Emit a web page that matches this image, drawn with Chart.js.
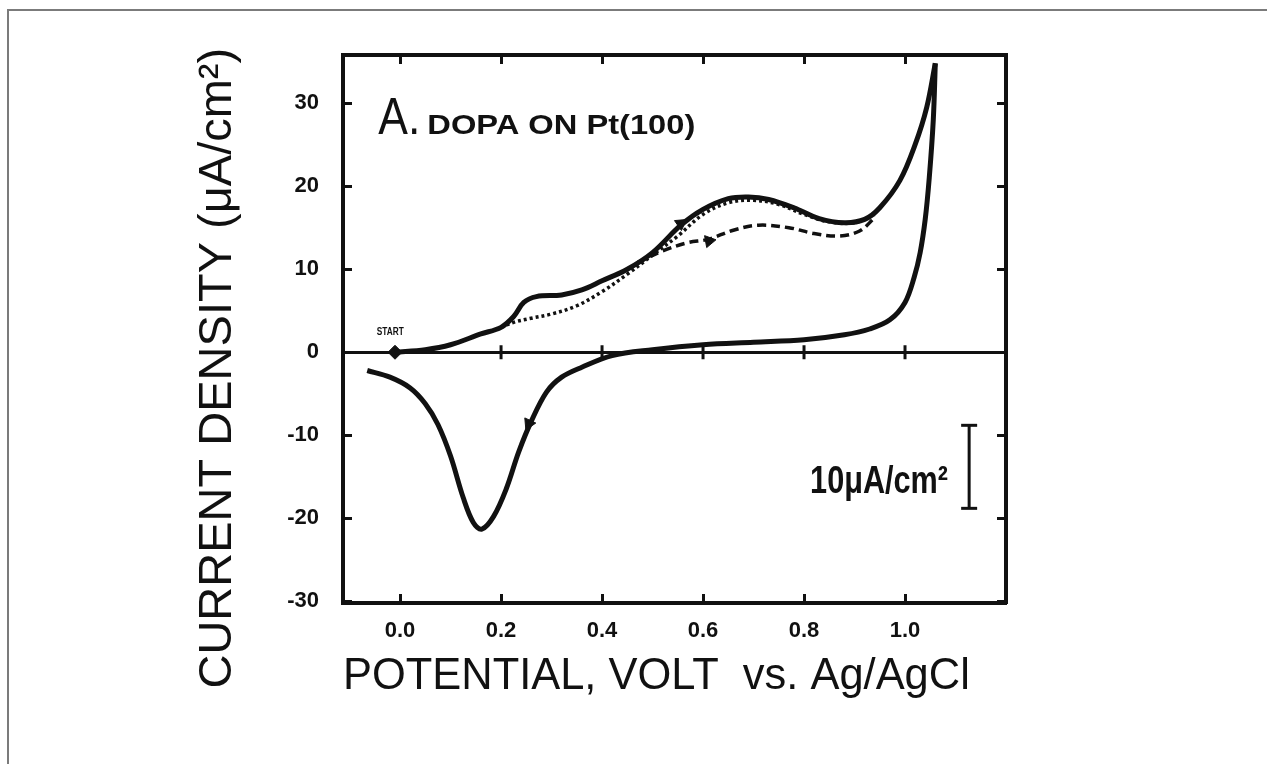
<!DOCTYPE html>
<html>
<head>
<meta charset="utf-8">
<script src="https://cdn.jsdelivr.net/npm/chart.js@4.4.1/dist/chart.umd.min.js"></script>
<style>
  html, body { margin: 0; padding: 0; background: #fff; }
  #wrap { position: relative; width: 1267px; height: 764px; overflow: hidden; }
  #frame { position: absolute; left: 7px; top: 9px; width: 1300px; height: 800px;
           border-left: 2px solid #7b7b7b; border-top: 2px solid #7b7b7b; }
  canvas { position: absolute; left: 0; top: 0; }
</style>
</head>
<body>
<div id="wrap"><div id="frame"></div><canvas id="cv" width="1267" height="764"></canvas></div>
<script>
// potential (V vs Ag/AgCl) and current density (uA/cm2)

// first anodic sweep (solid), START -> upper vertex
const firstSweepV = [-0.01, 0.05, 0.10, 0.16, 0.20, 0.225, 0.245, 0.27, 0.32, 0.36, 0.40, 0.45, 0.50, 0.556, 0.60, 0.65, 0.69, 0.73, 0.78, 0.83, 0.88, 0.92, 0.95, 0.99, 1.02, 1.043, 1.06];
const firstSweepI = [0.0, 0.3, 0.9, 2.2, 3.0, 4.3, 6.0, 6.7, 6.9, 7.5, 8.6, 10.0, 12.0, 15.3, 17.2, 18.5, 18.7, 18.4, 17.4, 16.1, 15.6, 16.0, 17.4, 20.7, 25.0, 29.5, 34.8];

// cathodic return sweep (solid), vertex -> lower end
const returnSweepV = [1.06, 1.056, 1.048, 1.04, 1.03, 1.018, 1.0, 0.97, 0.93, 0.88, 0.80, 0.70, 0.60, 0.50, 0.42, 0.36, 0.32, 0.29, 0.26, 0.235, 0.21, 0.185, 0.162, 0.145, 0.125, 0.10, 0.075, 0.05, 0.02, -0.02, -0.065];
const returnSweepI = [34.8, 28.0, 21.0, 16.0, 12.0, 9.0, 6.0, 3.9, 2.8, 2.1, 1.5, 1.2, 0.9, 0.3, -0.4, -1.8, -3.0, -4.8, -8.3, -12.0, -16.5, -19.8, -21.3, -20.5, -17.5, -12.5, -8.7, -6.2, -4.3, -3.0, -2.2];

// dotted sweep
const dottedV = [0.20, 0.225, 0.26, 0.30, 0.35, 0.40, 0.45, 0.50, 0.55, 0.60, 0.65, 0.70, 0.75, 0.80, 0.85, 0.90, 0.94];
const dottedI = [3.0, 3.6, 4.1, 4.6, 5.6, 7.3, 9.4, 11.7, 14.0, 16.6, 18.0, 18.3, 17.8, 16.6, 15.7, 15.6, 16.6];

// dashed sweep
const dashedV = [0.47, 0.52, 0.57, 0.61, 0.66, 0.71, 0.77, 0.82, 0.87, 0.91, 0.94];
const dashedI = [10.8, 12.2, 13.2, 13.6, 14.7, 15.3, 15.0, 14.3, 14.0, 14.6, 16.2];

// direction arrows on the curves
const arrowV = [0.556, 0.612, 0.255];
const arrowI = [15.5, 13.4, -8.6];
const arrowAngle = [55, 200, 205];

// start marker and scale bar (10 uA/cm2)
const startV = [-0.01];
const startI = [0];
const scaleBarV = [1.127, 1.127];
const scaleBarI = [-8.8, -18.8];

// axis ticks
const xTicks = [0.0, 0.2, 0.4, 0.6, 0.8, 1.0];
const yTicks = [-30, -20, -10, 0, 10, 20, 30];

const pts = (xs, ys) => xs.map((x, i) => ({ x: x, y: ys[i] }));
const ink = '#111';

const notes = {
  id: 'notes',
  afterDatasetsDraw(chart) {
    const ctx = chart.ctx;
    const x = chart.scales.x, y = chart.scales.y;
    const put = (text, font, vx, vy, w) => {
      ctx.save();
      ctx.font = font;
      ctx.fillStyle = ink;
      ctx.textBaseline = 'alphabetic';
      const m = ctx.measureText(text).width;
      ctx.translate(x.getPixelForValue(vx), y.getPixelForValue(vy));
      if (w) ctx.scale(w / m, 1);
      ctx.fillText(text, 0, 0);
      ctx.restore();
    };
    put('A.', '52px "Liberation Sans"', -0.043, 26.3, 42);
    put('DOPA ON Pt(100)', 'bold 28px "Liberation Sans"', 0.054, 26.3, 268);
    put('START', 'bold 11px "Liberation Sans"', -0.046, 2.1, 27);
    put('10μA/cm²', 'bold 38px "Liberation Sans"', 0.812, -17.0, 138);
  }
};

const frameAxis = (pos, extra) => Object.assign({
  type: 'linear',
  position: pos,
  border: { display: true, width: 4, color: ink },
  grid: { drawOnChartArea: false, tickLength: -9, tickWidth: 3, tickColor: ink },
  ticks: { display: false },
  title: { display: false }
}, extra);

new Chart(document.getElementById('cv'), {
  type: 'line',
  data: {
    datasets: [
      { data: pts(firstSweepV, firstSweepI), borderColor: ink, borderWidth: 5, tension: 0.35, pointRadius: 0 },
      { data: pts(returnSweepV, returnSweepI), borderColor: ink, borderWidth: 5, tension: 0.35, pointRadius: 0 },
      { data: pts(dottedV, dottedI), borderColor: ink, borderWidth: 3.5, borderDash: [3, 3], tension: 0.35, pointRadius: 0 },
      { data: pts(dashedV, dashedI), borderColor: ink, borderWidth: 3.5, borderDash: [9, 5], tension: 0.35, pointRadius: 0 },
      { data: pts(arrowV, arrowI), showLine: false, pointStyle: 'triangle', pointRadius: 7,
        rotation: arrowAngle, backgroundColor: ink, borderColor: ink, borderWidth: 1 },
      { data: pts(startV, startI), showLine: false, pointStyle: 'rectRot', pointRadius: 7,
        backgroundColor: ink, borderColor: ink },
      { data: pts(xTicks.slice(1), xTicks.slice(1).map(() => 0)), showLine: false, pointStyle: 'line',
        rotation: 90, pointRadius: 7, borderColor: ink, borderWidth: 3 },
      { data: pts(scaleBarV, scaleBarI), borderColor: ink, borderWidth: 3, tension: 0,
        pointStyle: 'line', pointRadius: 8, pointBorderWidth: 3 }
    ]
  },
  options: {
    responsive: false,
    animation: false,
    devicePixelRatio: 1,
    layout: { padding: { left: 190, top: 0, right: 0, bottom: 0 } },
    plugins: { legend: { display: false }, tooltip: { enabled: false } },
    scales: {
      x: {
        type: 'linear', position: 'bottom', min: -0.113, max: 1.2,
        afterBuildTicks: s => { s.ticks = xTicks.map(v => ({ value: v })); },
        afterFit: s => { s.height = 161; },
        border: { display: true, width: 4, color: ink },
        grid: { drawOnChartArea: false, tickLength: -9, tickWidth: 3, tickColor: ink },
        ticks: { color: ink, padding: 24, maxRotation: 0, font: { family: 'Liberation Sans', weight: 'bold', size: 22 },
                 callback: v => v.toFixed(1) },
        title: { display: true, text: 'POTENTIAL, VOLT  vs. Ag/AgCl   ', color: ink,
                 font: { family: 'Liberation Sans', size: 44 }, padding: { top: 0, bottom: 61 } }
      },
      y: {
        type: 'linear', position: 'left', min: -30.2, max: 35.8,
        afterBuildTicks: s => { s.ticks = yTicks.map(v => ({ value: v })); },
        afterFit: s => { s.width = 153; },
        border: { display: true, width: 4, color: ink },
        grid: {
          drawOnChartArea: true, tickLength: -9, tickWidth: 3, tickColor: ink,
          color: c => (c.tick && c.tick.value === 0 ? ink : 'rgba(0,0,0,0)'),
          lineWidth: 3
        },
        ticks: { color: ink, padding: 33, font: { family: 'Liberation Sans', weight: 'bold', size: 22 } },
        title: { display: true, text: 'CURRENT DENSITY (μA/cm²)      ', color: ink,
                 font: { family: 'Liberation Sans', size: 47 }, padding: { top: 0, bottom: 0 } }
      },
      xTop: frameAxis('top', {
        min: -0.113, max: 1.2,
        afterBuildTicks: s => { s.ticks = xTicks.map(v => ({ value: v })); },
        afterFit: s => { s.height = 55; }
      }),
      yRight: frameAxis('right', {
        min: -30.2, max: 35.8,
        afterBuildTicks: s => { s.ticks = yTicks.map(v => ({ value: v })); },
        afterFit: s => { s.width = 261; }
      })
    }
  },
  plugins: [notes]
});
</script>
</body>
</html>
